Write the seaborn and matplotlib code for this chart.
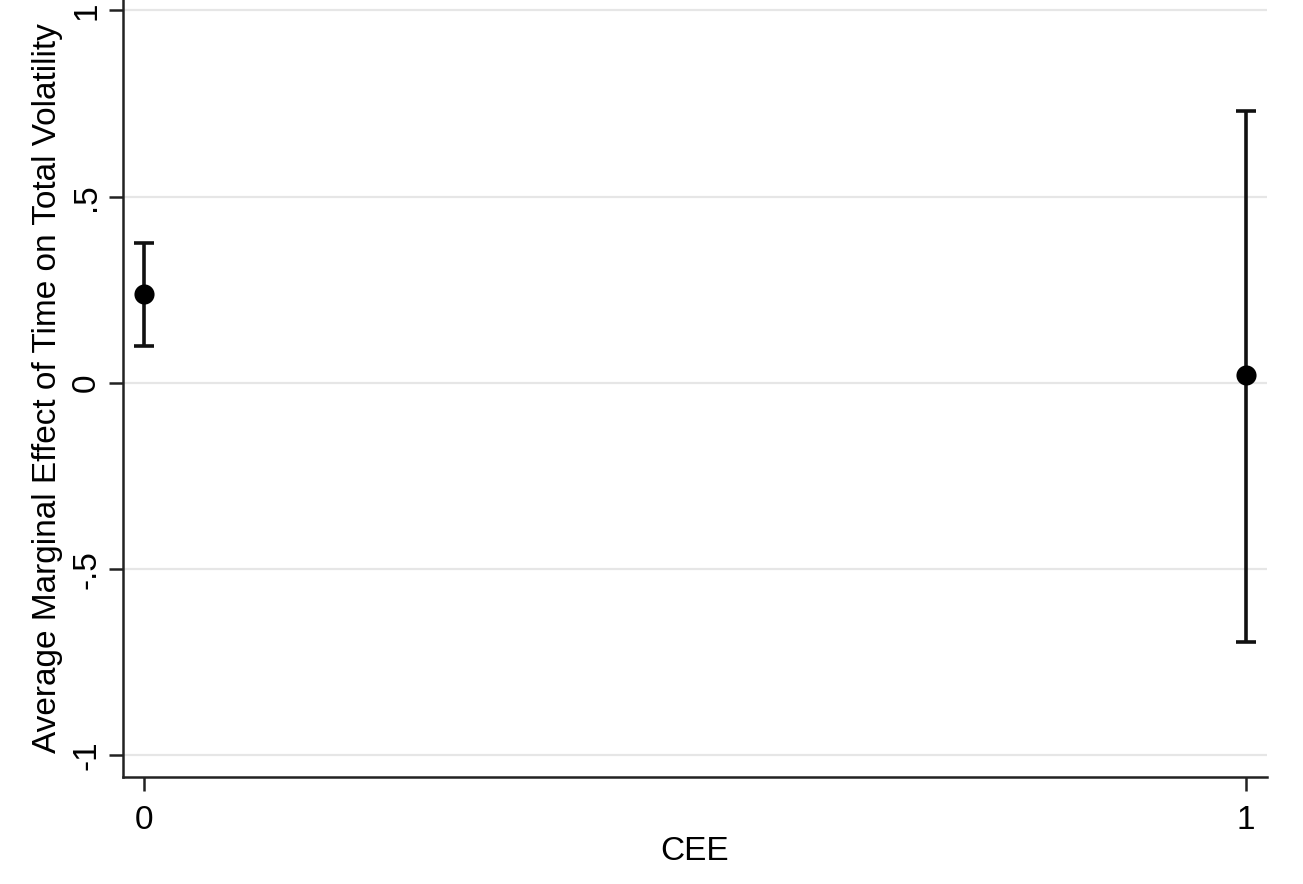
import matplotlib
matplotlib.use("Agg")
import matplotlib.pyplot as plt
import seaborn as sns
import pandas as pd

# margins estimates
cee = [0, 1]
effect = [0.238, 0.021]
ci_low = [0.099, -0.695]
ci_high = [0.376, 0.730]

ytick_vals = [-1, -0.5, 0, 0.5, 1]
ytick_labels = ["-1", "-.5", "0", ".5", "1"]

df = pd.DataFrame({"CEE": cee, "effect": effect, "lo": ci_low, "hi": ci_high})

sns.set_style("white")
plt.rcParams["font.family"] = ["Liberation Sans", "DejaVu Sans"]
plt.rcParams["text.color"] = "black"
plt.rcParams["axes.labelcolor"] = "black"
plt.rcParams["xtick.color"] = "black"
plt.rcParams["ytick.color"] = "black"

fig = plt.figure(figsize=(13.03, 8.84), dpi=100)
ax = fig.add_axes([0.0944, 0.121, 0.878, 0.879])

# horizontal grid lines like Stata
for v in ytick_vals:
    ax.axhline(v, color="#e6e6e6", lw=1.6, zorder=0)

ax.errorbar(df["CEE"], df["effect"],
            yerr=[df["effect"] - df["lo"], df["hi"] - df["effect"]],
            fmt="none", ecolor="#111111", elinewidth=2.6, capsize=7, capthick=2.6, zorder=2)
sns.scatterplot(data=df, x="CEE", y="effect", color="black", s=210, edgecolor="black",
                linewidth=0, zorder=3, ax=ax, legend=False)

ax.set_xlim(-0.019, 1.019)
ax.set_ylim(-1.058, 1.028)
ax.set_xticks(cee)
ax.set_xticklabels([str(c) for c in cee], fontsize=24)
ax.set_yticks(ytick_vals)
ax.set_yticklabels(ytick_labels, fontsize=24, rotation=90, va="center")

ax.set_xlabel("CEE", fontsize=24, labelpad=0)
ax.set_ylabel("Average Marginal Effect of Time on Total Volatility", fontsize=24, labelpad=6)

sns.despine(ax=ax)
for s in ["left", "bottom"]:
    ax.spines[s].set_color("#222222")
    ax.spines[s].set_linewidth(1.8)
ax.tick_params(axis="both", direction="out", length=10, width=1.8, color="#222222",
               bottom=True, left=True)
ax.tick_params(axis="x", pad=10)
ax.tick_params(axis="y", pad=5)

fig.savefig("out.png", dpi=100)
